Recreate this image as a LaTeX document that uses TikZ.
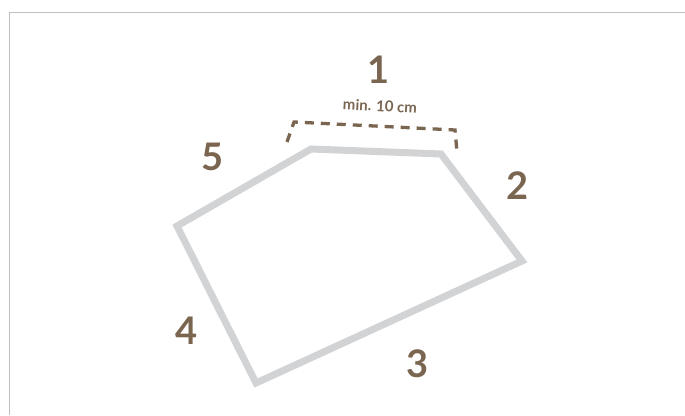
\documentclass[tikz,border=0pt]{standalone}
\usepackage{fontspec}
\setmainfont{Lato}
\definecolor{umber}{RGB}{122,102,80}
\definecolor{frame}{RGB}{190,190,190}
\definecolor{outline}{RGB}{210,211,213}
\tikzset{
  sidenum/.style={text=umber, font=\fontsize{38}{38}\selectfont\bfseries, inner sep=0pt},
  gap/.style={umber, line width=3.3pt, dash pattern=on 9pt off 7pt},
}
\begin{document}
\begin{tikzpicture}[x=1pt,y=-1pt]
    \useasboundingbox (0,0) rectangle (685,415);
    \draw[frame, line width=1pt] (9.5,415) -- (9.5,12.5) -- (685,12.5);
    % corners of the shape
    \coordinate (p1) at (311,149);
    \coordinate (p2) at (441,154);
    \coordinate (p3) at (522,261);
    \coordinate (p4) at (256,383);
    \coordinate (p5) at (177,226);
    \draw[outline, line width=7pt, miter limit=10] (p1) -- (p2) -- (p3) -- (p4) -- (p5) -- cycle;
    % bracket over side 1
    \coordinate (b1) at (287,142);
    \coordinate (b2) at (294,122);
    \coordinate (b3) at (455,130);
    \coordinate (b4) at (457,152);
    \draw[gap] (b1) -- (b2) -- (b3) -- (b4);
    \node[text=umber, font=\fontsize{15}{15}\selectfont\bfseries, rotate=-3.2] (minlen) at (380,106) {min. 10 cm};
    \node[sidenum] (n1) at (379,70) {1};
    \node[sidenum] (n2) at (518,186) {2};
    \node[sidenum] (n3) at (418,364) {3};
    \node[sidenum] (n4) at (187,331) {4};
    \node[sidenum] (n5) at (213,157) {5};
\end{tikzpicture}
\end{document}
